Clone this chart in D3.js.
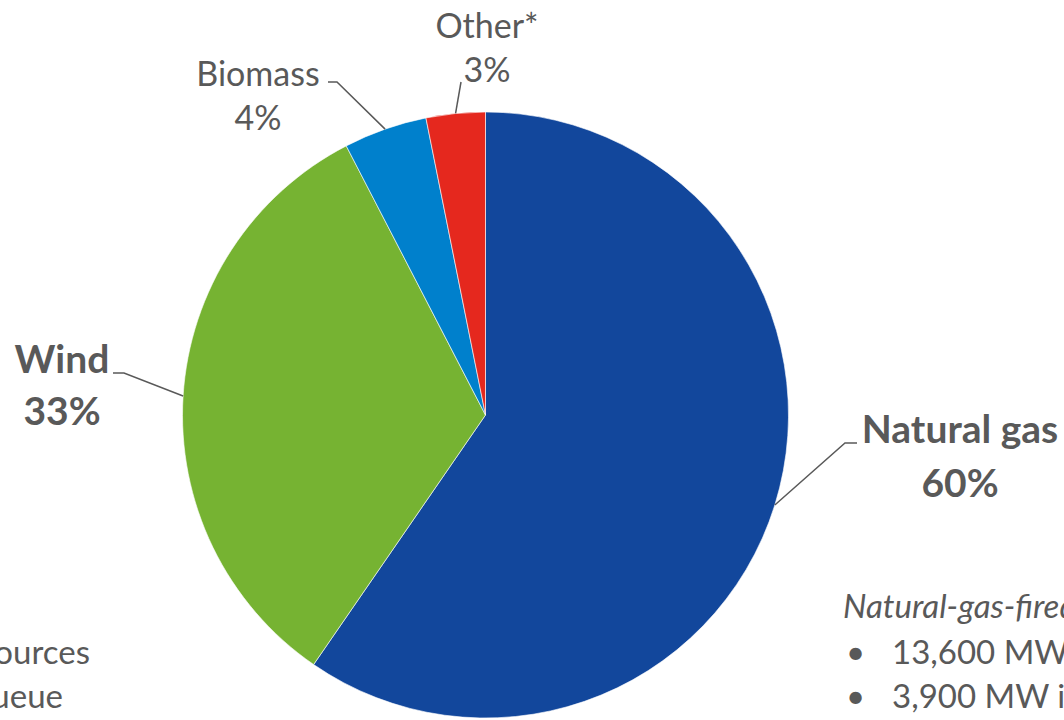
<!DOCTYPE html>
<html>
<head>
<meta charset="utf-8">
<script src="https://cdn.jsdelivr.net/npm/d3@7"></script>
<style>
  html, body { margin: 0; padding: 0; background: #fff; overflow: hidden; }
  svg { display: block; font-family: Lato, "Open Sans", sans-serif; }
</style>
</head>
<body>
<svg id="chart" width="1064" height="720"></svg>
<script>
// slice data, clockwise from 12 o'clock (shares)
var categories = ['Natural gas', 'Wind', 'Biomass', 'Other*']
var shares = [59.6, 32.8, 4.45, 3.15]
var colors = ['#12479c', '#76b332', '#0080cc', '#e5281e']
var boldLabel = [true, true, false, false]

// notes around the edge (cut off by the frame)
var noteTitle = 'Natural-gas-fired generators'
var noteBullets = ['13,600 MW proposed', '3,900 MW in development']
var leftNote = ['sources', 'queue']

// label placement: elbow point, end of leader, text centre and baselines
var labelLayout = [
  { elbow: [845, 443], end: [857, 443], x: 960, y: [443, 497] },
  { elbow: [124, 373], end: [113, 373], x: 62, y: [373, 425] },
  { elbow: [337, 82], end: [328, 82], x: 258, y: [86, 130] },
  { elbow: [461, 82], end: [461, 82], x: 487, y: [38, 82] }
]

var svg = d3.select('#chart')
var cx = 485.5, cy = 415, radius = 303
var textColor = '#595959'

var pie = d3.pie().sort(null).value(function(d) { return d.value })
var arcs = pie(categories.map(function(c, i) { return { name: c, value: shares[i], i: i } }))

var arc = d3.arc().innerRadius(0).outerRadius(radius)
var edge = d3.arc().innerRadius(radius).outerRadius(radius)

var g = svg.append('g').attr('transform', 'translate(' + cx + ',' + cy + ')')

g.selectAll('path.slice')
  .data(arcs)
  .enter()
  .append('path')
  .attr('class', 'slice')
  .attr('d', arc)
  .attr('fill', function(d) { return colors[d.data.i] })
  .attr('stroke', '#fff')
  .attr('stroke-width', 0.6)

// leader lines
svg.selectAll('polyline.leader')
  .data(arcs)
  .enter()
  .append('polyline')
  .attr('class', 'leader')
  .attr('fill', 'none')
  .attr('stroke', '#595959')
  .attr('stroke-width', 1.5)
  .attr('points', function(d) {
    var c = edge.centroid(d)
    var l = labelLayout[d.data.i]
    return [[cx + c[0], cy + c[1]], l.elbow, l.end].map(function(p) { return p.join(',') }).join(' ')
  })

// labels
var labels = svg.selectAll('g.label')
  .data(arcs)
  .enter()
  .append('g')
  .attr('class', 'label')
  .attr('fill', textColor)
  .attr('text-anchor', 'middle')
  .attr('font-weight', function(d) { return boldLabel[d.data.i] ? 700 : 400 })
  .attr('font-size', function(d) { return boldLabel[d.data.i] ? 39 : 34 })

labels.append('text')
  .attr('x', function(d) { return labelLayout[d.data.i].x })
  .attr('y', function(d) { return labelLayout[d.data.i].y[0] })
  .text(function(d) { return d.data.name })

labels.append('text')
  .attr('x', function(d) { return labelLayout[d.data.i].x })
  .attr('y', function(d) { return labelLayout[d.data.i].y[1] })
  .text(function(d) { return d3.format('.0f')(d.data.value) + '%' })

// bottom right note
var note = svg.append('g').attr('fill', textColor).attr('font-size', 33)
note.append('text')
  .attr('x', 843)
  .attr('y', 618)
  .attr('font-style', 'italic')
  .text(noteTitle)

noteBullets.forEach(function(t, i) {
  var y = 664 + i * 44
  note.append('text').attr('x', 846).attr('y', y).text('\u2022')
  note.append('text').attr('x', 892).attr('y', y).text(t)
})

// bottom left note, only the end of each line shows
svg.append('g')
  .attr('fill', textColor)
  .attr('font-size', 33)
  .attr('text-anchor', 'end')
  .selectAll('text')
  .data(leftNote)
  .enter()
  .append('text')
  .attr('x', function(d, i) { return i === 0 ? 90 : 63 })
  .attr('y', function(d, i) { return 664 + i * 44 })
  .text(function(d) { return d })
</script>
</body>
</html>
